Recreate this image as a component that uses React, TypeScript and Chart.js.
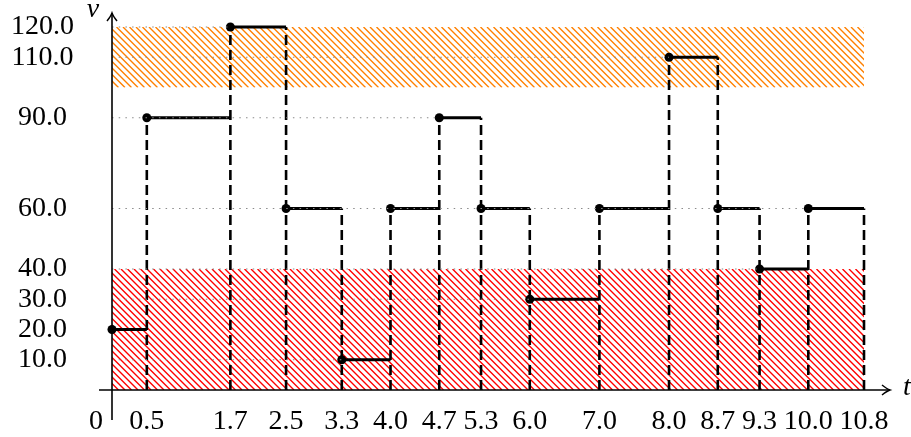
import React, { useEffect, useRef } from "react";
import { Chart, registerables } from "chart.js";

Chart.register(...registerables);

const xTickValues = [0, 0.5, 1.7, 2.5, 3.3, 4.0, 4.7, 5.3, 6.0, 7.0, 8.0, 8.7, 9.3, 10.0, 10.8];
const yTickValues = [10, 20, 30, 40, 60, 90, 110, 120];
const segStarts = [0, 0.5, 1.7, 2.5, 3.3, 4.0, 4.7, 5.3, 6.0, 7.0, 8.0, 8.7, 9.3, 10.0];
const segEnds = [0.5, 1.7, 2.5, 3.3, 4.0, 4.7, 5.3, 6.0, 7.0, 8.0, 8.7, 9.3, 10.0, 10.8];
const segValues = [20, 90, 120, 60, 10, 60, 90, 60, 30, 60, 110, 60, 40, 60];
const lowBand = [0, 40];
const highBand = [100, 120];
const xLabel = "t";
const yLabel = "v";

const FONT = "'Liberation Serif', 'Times New Roman', serif";

export default function App() {
  const ref = useRef<HTMLCanvasElement | null>(null);

  useEffect(() => {
    document.body.style.margin = "0";
    const canvas = ref.current;
    if (!canvas) return;

    // step segments
    const stepData: any[] = [];
    segStarts.forEach((s, i) => {
      stepData.push({ x: s, y: segValues[i], dot: true });
      stepData.push({ x: segEnds[i], y: segValues[i], dot: false });
      stepData.push({ x: segEnds[i], y: null, dot: false });
    });

    // dashed verticals
    const dashData: any[] = [];
    segStarts.forEach((s, i) => {
      [s, segEnds[i]].forEach((x) => {
        if (x === 0) return;
        dashData.push({ x, y: 0 });
        dashData.push({ x, y: segValues[i] });
        dashData.push({ x, y: null });
      });
    });

    // dotted guides: from axis to last start at each level
    const guideData: any[] = [];
    const uniq = Array.from(new Set(segValues));
    uniq.forEach((v) => {
      let last = 0;
      segStarts.forEach((s, i) => {
        if (segValues[i] === v && s > last) last = s;
      });
      if (last > 0) {
        guideData.push({ x: 0, y: v });
        guideData.push({ x: last, y: v });
        guideData.push({ x: last, y: null });
      }
    });

    const drawHatch = (ctx: CanvasRenderingContext2D, x0: number, x1: number, y0: number, y1: number, color: string) => {
      ctx.save();
      ctx.beginPath();
      ctx.rect(x0, y0, x1 - x0, y1 - y0);
      ctx.clip();
      ctx.strokeStyle = color;
      ctx.lineWidth = 1.4;
      const h = y1 - y0;
      const step = 6.5;
      ctx.beginPath();
      for (let x = x0 - h - step; x < x1 + step; x += step) {
        ctx.moveTo(x, y0);
        ctx.lineTo(x + h, y1);
      }
      ctx.stroke();
      ctx.restore();
    };

    const bgPlugin = {
      id: "bands",
      beforeDatasetsDraw(chart: any) {
        const { ctx, scales } = chart;
        const xs = scales.x;
        const ys = scales.y;
        const xa = xs.getPixelForValue(0);
        const xb = xs.getPixelForValue(10.8);
        drawHatch(ctx, xa, xb, ys.getPixelForValue(lowBand[1]), ys.getPixelForValue(lowBand[0]), "#ff0000");
        drawHatch(ctx, xa, xb, ys.getPixelForValue(highBand[1]), ys.getPixelForValue(highBand[0]), "#ff8000");
      },
      afterDatasetsDraw(chart: any) {
        const { ctx, scales } = chart;
        const xs = scales.x;
        const ys = scales.y;
        const ox = xs.getPixelForValue(0);
        const oy = ys.getPixelForValue(0);
        const topY = ys.getPixelForValue(120);
        const rightX = xs.getPixelForValue(10.8);
        ctx.save();
        ctx.strokeStyle = "#000";
        ctx.lineWidth = 1.6;
        // x axis
        const xEnd = rightX + 26;
        ctx.beginPath();
        ctx.moveTo(ox - 13, oy);
        ctx.lineTo(xEnd, oy);
        ctx.stroke();
        // y axis
        const yEnd = topY - 14;
        ctx.beginPath();
        ctx.moveTo(ox, oy + 30);
        ctx.lineTo(ox, yEnd);
        ctx.stroke();
        // arrow heads
        ctx.lineWidth = 1.5;
        ctx.beginPath();
        ctx.moveTo(xEnd - 8, oy - 5);
        ctx.quadraticCurveTo(xEnd - 3, oy - 1, xEnd, oy);
        ctx.quadraticCurveTo(xEnd - 3, oy + 1, xEnd - 8, oy + 5);
        ctx.stroke();
        ctx.beginPath();
        ctx.moveTo(ox - 5, yEnd + 8);
        ctx.quadraticCurveTo(ox - 1, yEnd + 3, ox, yEnd);
        ctx.quadraticCurveTo(ox + 1, yEnd + 3, ox + 5, yEnd + 8);
        ctx.stroke();
        // labels
        ctx.fillStyle = "#000";
        ctx.textAlign = "center";
        ctx.textBaseline = "middle";
        ctx.font = `28px ${FONT}`;
        ctx.fillText("0", ox - 16, xs.top + 15 + 16.8);
        ctx.font = `italic 28px ${FONT}`;
        ctx.fillText(yLabel, ox - 19, topY - 17);
        ctx.fillText(xLabel, xEnd + 17, oy - 2);
        ctx.restore();
      },
    };

    const chart = new Chart(canvas, {
      type: "line",
      data: {
        datasets: [
          {
            label: "guides",
            data: guideData,
            borderColor: "#8a8a8a",
            borderWidth: 1.2,
            borderDash: [1.5, 5.2],
            pointRadius: 0,
            spanGaps: false,
            clip: false as any,
          },
          {
            label: "jumps",
            data: dashData,
            borderColor: "#000",
            borderWidth: 2.6,
            borderDash: [10, 5],
            pointRadius: 0,
            spanGaps: false,
            clip: false as any,
          },
          {
            label: "steps",
            data: stepData,
            borderColor: "#000",
            borderWidth: 3,
            pointRadius: (c: any) => (c.raw && c.raw.dot ? 4.5 : 0),
            pointBackgroundColor: "#000",
            pointBorderWidth: 0,
            spanGaps: false,
            clip: false as any,
          },
        ],
      },
      options: {
        responsive: false,
        animation: false,
        events: [],
        layout: { padding: { top: 27, right: 47, left: 0, bottom: 0 } },
        plugins: {
          legend: { display: false },
          tooltip: { enabled: false },
        },
        scales: {
          x: {
            type: "linear",
            min: 0,
            max: 10.8,
            grid: { display: false, drawTicks: false },
            border: { display: false },
            afterBuildTicks: (s: any) => {
              s.ticks = xTickValues.map((v) => ({ value: v }));
            },
            afterFit: (s: any) => {
              s.height = 47;
              s.paddingLeft = 0;
              s.paddingRight = 0;
            },
            ticks: {
              autoSkip: false,
              maxRotation: 0,
              minRotation: 0,
              padding: 15,
              color: "#000",
              font: { family: FONT, size: 28 },
              callback: (v: any) => (Number(v) === 0 ? "" : Number(v).toFixed(1)),
            },
          },
          y: {
            type: "linear",
            min: 0,
            max: 120,
            grid: { display: false, drawTicks: false },
            border: { display: false },
            afterBuildTicks: (s: any) => {
              s.ticks = yTickValues.map((v) => ({ value: v }));
            },
            afterFit: (s: any) => {
              s.width = 112;
              s.paddingTop = 0;
              s.paddingBottom = 0;
            },
            ticks: {
              autoSkip: false,
              padding: 38,
              crossAlign: "center",
              color: "#000",
              font: { family: FONT, size: 28 },
              callback: (v: any) => Number(v).toFixed(1),
            },
          },
        },
      },
      plugins: [bgPlugin],
    });

    return () => chart.destroy();
  }, []);

  return <canvas ref={ref} width={911} height={437} style={{ display: "block" }} />;
}
